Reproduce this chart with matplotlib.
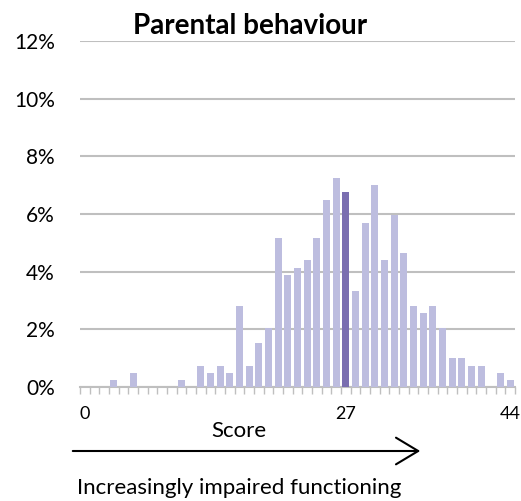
import numpy as np
import matplotlib.pyplot as plt

plt.rcParams['font.family'] = ['Lato', 'DejaVu Sans']

# share of respondents (%) by score 0..44
scores = np.arange(0, 45)
pct = [0, 0, 0, 0.25, 0, 0.5, 0, 0, 0, 0,
       0.25, 0, 0.74, 0.5, 0.74, 0.5, 2.82, 0.74, 1.52, 2.05,
       5.16, 3.88, 4.13, 4.39, 5.16, 6.47, 7.26, 6.76, 3.34, 5.70,
       7.0, 4.39, 5.98, 4.66, 2.82, 2.57, 2.82, 2.05, 1.0, 1.0,
       0.74, 0.74, 0, 0.5, 0.25]
highlight = 27
label_ticks = [0, 27, 44]
yticks = [0, 2, 4, 6, 8, 10, 12]

W, H = 521, 501
fig = plt.figure(figsize=(W / 100, H / 100), dpi=100)
ax = fig.add_axes([80 / W, (H - 387) / H, 435 / W, 346 / H])

colors = ['#7a6eb0' if s == highlight else '#bdbddf' for s in scores]
ax.bar(scores, pct, width=0.72, color=colors, zorder=3)

ax.set_xlim(-0.5, 44.5)
ax.set_ylim(0, 12)
ax.set_yticks(yticks)
ax.set_yticklabels([f"{v}%" for v in yticks], fontsize=15)
ax.tick_params(axis='y', length=0, pad=18)
ax.yaxis.grid(True, color='#bfbfbf', linewidth=1.5, zorder=0)

ax.set_xticks(label_ticks)
ax.set_xticklabels([str(v) for v in label_ticks], fontsize=13)
ax.set_xticks(np.arange(-0.5, 45, 1), minor=True)
ax.tick_params(axis='x', which='major', length=0, pad=14)
ax.tick_params(axis='x', which='minor', length=5, width=1, color='#bfbfbf')

for side in ['left', 'right', 'top']:
    ax.spines[side].set_visible(False)
ax.spines['bottom'].set_color('#bfbfbf')
ax.spines['bottom'].set_linewidth(1.5)

fig.text(250 / W, 1 - 26 / H, "Parental behaviour", fontsize=20,
         fontweight='bold', ha='center', va='center')
fig.text(239 / W, 1 - 431 / H, "Score", fontsize=16, ha='center', va='center')
fig.text(77 / W, 1 - 488 / H, "Increasingly impaired functioning",
         fontsize=16, ha='left', va='center')

fig.patches.append(plt.matplotlib.patches.FancyArrowPatch(
    (70 / W, 1 - 451 / H), (423 / W, 1 - 451 / H),
    transform=fig.transFigure, arrowstyle='->,head_length=1.0,head_width=0.6',
    mutation_scale=16, color='black', linewidth=1.5))

fig.savefig("out.png", dpi=100)
